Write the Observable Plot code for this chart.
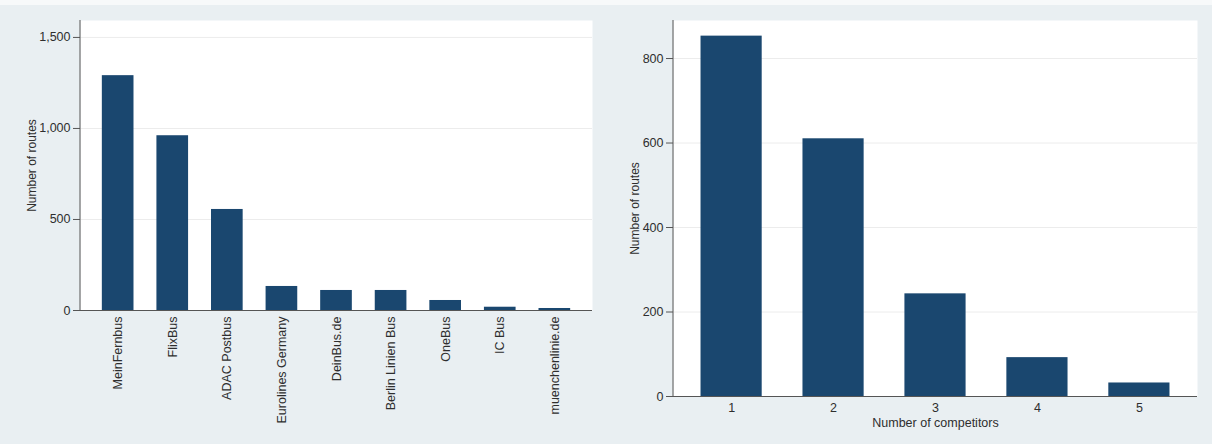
<!DOCTYPE html>
<html>
<head>
<meta charset="utf-8">
<script src="https://cdn.jsdelivr.net/npm/d3@7"></script>
<script src="https://cdn.jsdelivr.net/npm/@observablehq/plot@0.6"></script>
<style>
  html, body { margin: 0; padding: 0; background: #e9eff2; }
  #wrap { position: relative; width: 1212px; height: 444px; background: #e9eff2; overflow: hidden; }
  #topstrip { position: absolute; left: 0; top: 0; width: 1212px; height: 5px; background: #f7f9fa; }
  #left { position: absolute; left: 0; top: 0; }
  #right { position: absolute; left: 600px; top: 0; }
  svg { font-family: "Liberation Sans", Arial, sans-serif; }
</style>
</head>
<body>
<div id="wrap">
  <div id="topstrip"></div>
  <div id="left"></div>
  <div id="right"></div>
</div>
<script>
// ---- data ----
const operators = ["MeinFernbus", "FlixBus", "ADAC Postbus", "Eurolines Germany", "DeinBus.de", "Berlin Linien Bus", "OneBus", "IC Bus", "muenchenlinie.de"];
const operatorRoutes = [1290, 960, 555, 132, 110, 110, 55, 18, 11];
const leftTicks = [0, 500, 1000, 1500];

const competitors = ["1", "2", "3", "4", "5"];
const competitorRoutes = [853, 610, 243, 92, 32];
const rightTicks = [0, 200, 400, 600, 800];

const barColor = "#1a476f";
const textColor = "#2e2e2e";
const axisColor = "#555555";
const gridColor = "#ececec";

const leftData = operators.map((o, i) => ({name: o, value: operatorRoutes[i]}));
const rightData = competitors.map((c, i) => ({name: c, value: competitorRoutes[i]}));

function addLeftAxisLine(chart, marginLeft) {
  const y = chart.scale("y");
  d3.select(chart).append("line")
    .attr("x1", marginLeft).attr("x2", marginLeft)
    .attr("y1", y.range[0]).attr("y2", y.range[1])
    .attr("stroke", axisColor).attr("stroke-width", 1);
  return chart;
}

const left = Plot.plot({
  width: 600, height: 444,
  marginLeft: 80, marginRight: 8, marginTop: 20, marginBottom: 134,
  style: {background: "transparent", color: textColor, fontSize: "12.5px"},
  x: {domain: operators, paddingInner: 0.42, paddingOuter: 0.40, round: false},
  y: {domain: [0, 1593]},
  marks: [
    Plot.frame({fill: "white", stroke: null}),
    Plot.gridY(leftTicks.filter(d => d > 0), {stroke: gridColor, strokeOpacity: 1}),
    Plot.barY(leftData, {x: "name", y: "value", fill: barColor}),
    Plot.ruleY([0], {stroke: axisColor}),
    Plot.axisY({ticks: leftTicks, tickFormat: d3.format(","), tickSize: 7, tickPadding: 3, stroke: axisColor, fontSize: 12.5,
      label: null}),
    Plot.axisY({ticks: [], label: "Number of routes", labelAnchor: "center", labelArrow: "none", labelOffset: 53, fontSize: 12}),
    Plot.axisX({tickSize: 0, tickRotate: -90, tickPadding: 6, label: null, fontSize: 12.5})
  ]
});
document.getElementById("left").appendChild(addLeftAxisLine(left, 80));

const right = Plot.plot({
  width: 612, height: 444,
  marginLeft: 73, marginRight: 15, marginTop: 20, marginBottom: 48,
  style: {background: "transparent", color: textColor, fontSize: "12.5px"},
  x: {domain: competitors, paddingInner: 0.4, paddingOuter: 0.27, round: false},
  y: {domain: [0, 890]},
  marks: [
    Plot.frame({fill: "white", stroke: null}),
    Plot.gridY(rightTicks.filter(d => d > 0), {stroke: gridColor, strokeOpacity: 1}),
    Plot.barY(rightData, {x: "name", y: "value", fill: barColor}),
    Plot.ruleY([0], {stroke: axisColor}),
    Plot.axisY({ticks: rightTicks, tickSize: 7, tickPadding: 3, stroke: axisColor, fontSize: 12.5, label: null}),
    Plot.axisY({ticks: [], label: "Number of routes", labelAnchor: "center", labelArrow: "none", labelOffset: 43, fontSize: 12}),
    Plot.axisX({tickSize: 0, tickPadding: 7, label: null, fontSize: 12.5}),
    Plot.axisX({ticks: [], label: "Number of competitors", labelAnchor: "center", labelArrow: "none", labelOffset: 30, fontSize: 12.5})
  ]
});
document.getElementById("right").appendChild(addLeftAxisLine(right, 73));
</script>
</body>
</html>
